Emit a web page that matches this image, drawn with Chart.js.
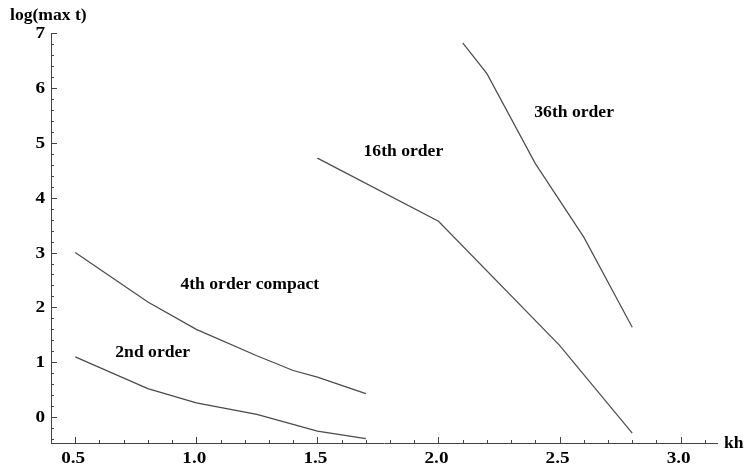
<!DOCTYPE html>
<html>
<head>
<meta charset="utf-8">
<script src="https://cdn.jsdelivr.net/npm/chart.js@4/dist/chart.umd.min.js"></script>
<style>
  html, body { margin: 0; padding: 0; background: #fff; }
  #wrap { width: 744px; height: 465px; position: relative; }
</style>
</head>
<body>
<div id="wrap"><canvas id="c" width="744" height="465"></canvas></div>
<script>
// ---- data ----
const kh2 = [0.5, 0.8, 1.0, 1.25, 1.5, 1.7];
const order2 = [1.10, 0.52, 0.26, 0.05, -0.255, -0.39];

const kh4c = [0.5, 0.8, 1.0, 1.25, 1.4, 1.5, 1.7];
const order4c = [3.0, 2.10, 1.60, 1.12, 0.85, 0.73, 0.43];

const kh16 = [1.5, 2.0, 2.5, 2.8];
const order16 = [4.72, 3.57, 1.31, -0.29];

const kh36 = [2.1, 2.2, 2.4, 2.6, 2.8];
const order36 = [6.82, 6.26, 4.62, 3.28, 1.64];

const xTickLabels = [0.5, 1.0, 1.5, 2.0, 2.5, 3.0];
const yTickLabels = [0, 1, 2, 3, 4, 5, 6, 7];

const seriesNames = ["2nd order", "4th order compact", "16th order", "36th order"];
const xAxisTitle = "kh";
const yAxisTitle = "log(max t)";

// ---- build ----
function pts(xs, ys) { return xs.map((x, i) => ({ x: x, y: ys[i] })); }
const seriesData = [pts(kh2, order2), pts(kh4c, order4c), pts(kh16, order16), pts(kh36, order36)];
const lineColor = '#4a4a4a';
const FONT = '"Liberation Serif", "Times New Roman", serif';

// label anchors (data coordinates) for the in-plot series labels
const labelAnchors = [
  { x: 0.820, y: 1.18 },
  { x: 1.221, y: 2.41 },
  { x: 1.855, y: 4.83 },
  { x: 2.560, y: 5.54 }
];

function stretchText(ctx, text, x, y, align, sx) {
  ctx.save();
  ctx.translate(x, y);
  ctx.scale(sx, 1);
  ctx.textAlign = align;
  ctx.fillText(text, 0, 0);
  ctx.restore();
}

const decor = {
  id: 'decor',
  afterDraw(chart) {
    const ctx = chart.ctx;
    const xs = chart.scales.x, ys = chart.scales.y;
    const ca = chart.chartArea;
    ctx.save();
    ctx.strokeStyle = '#444';
    ctx.lineWidth = 1;
    // x ticks (inward)
    for (let i = 4; i <= 31; i++) {
      const v = i / 10;
      const px = Math.round(xs.getPixelForValue(v)) + 0.5;
      const len = (i % 5 === 0) ? 6 : 3;
      ctx.beginPath();
      ctx.moveTo(px, ca.bottom);
      ctx.lineTo(px, ca.bottom - len);
      ctx.stroke();
    }
    // y ticks (inward)
    for (let i = -2; i <= 35; i++) {
      const v = i / 5;
      const py = Math.round(ys.getPixelForValue(v)) + 0.5;
      const len = (i % 5 === 0) ? 6 : 3;
      ctx.beginPath();
      ctx.moveTo(ca.left, py);
      ctx.lineTo(ca.left + len, py);
      ctx.stroke();
    }
    ctx.fillStyle = '#000';
    ctx.textBaseline = 'alphabetic';
    // tick labels from the library's ticks
    ctx.font = 'bold 16px ' + FONT;
    xs.ticks.forEach(t => {
      stretchText(ctx, Number(t.value).toFixed(1), xs.getPixelForValue(t.value) - 2, 463, 'center', 1.2);
    });
    ys.ticks.forEach(t => {
      stretchText(ctx, String(t.value), 45, ys.getPixelForValue(t.value) + 5, 'right', 1.2);
    });
    // axis titles
    ctx.font = 'bold 16px ' + FONT;
    stretchText(ctx, yAxisTitle, 10, 20, 'left', 1.1);
    stretchText(ctx, xAxisTitle, 724, 448, 'left', 1.1);
    // series labels
    ctx.font = 'bold 16px ' + FONT;
    ctx.textBaseline = 'middle';
    seriesNames.forEach((n, i) => {
      const a = labelAnchors[i];
      stretchText(ctx, n, xs.getPixelForValue(a.x), ys.getPixelForValue(a.y), 'center', 1.1);
    });
    ctx.restore();
  }
};

new Chart(document.getElementById('c'), {
  type: 'scatter',
  data: {
    datasets: seriesData.map((d, i) => ({
      label: seriesNames[i],
      data: d,
      showLine: true,
      borderColor: lineColor,
      borderWidth: 1.2,
      pointRadius: 0,
      pointHoverRadius: 0,
      fill: false,
      tension: 0
    }))
  },
  options: {
    responsive: false,
    animation: false,
    events: [],
    layout: { padding: { left: 0, top: 33, right: 27, bottom: 0 } },
    plugins: { legend: { display: false }, tooltip: { enabled: false } },
    scales: {
      x: {
        type: 'linear',
        min: 0.4, max: 3.15,
        afterBuildTicks: s => { s.ticks = xTickLabels.map(v => ({ value: v })); },
        afterFit: s => { s.height = 22; },
        grid: { display: false, drawTicks: false },
        border: { display: true, color: '#444', width: 1 },
        ticks: { display: false }
      },
      y: {
        type: 'linear',
        min: -0.47, max: 7,
        afterBuildTicks: s => { s.ticks = yTickLabels.map(v => ({ value: v })); },
        afterFit: s => { s.width = 51; },
        grid: { display: false, drawTicks: false },
        border: { display: true, color: '#444', width: 1 },
        ticks: { display: false }
      }
    }
  },
  plugins: [decor]
});
</script>
</body>
</html>
